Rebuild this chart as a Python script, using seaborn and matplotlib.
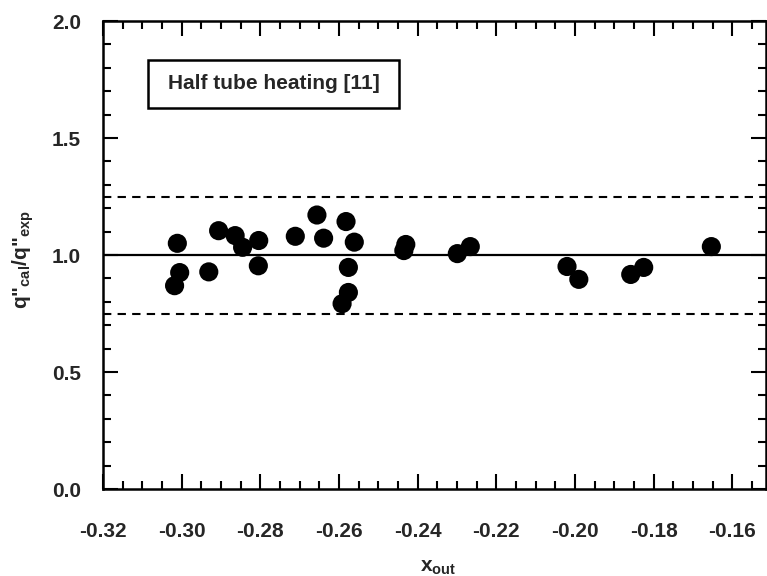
import matplotlib
matplotlib.use("Agg")
import matplotlib.pyplot as plt
import seaborn as sns
import pandas as pd
from matplotlib.patches import Rectangle
from matplotlib.ticker import MultipleLocator

# Data
x_out = [-0.3011, -0.3005, -0.3018, -0.2931, -0.2906, -0.2864, -0.2845, -0.2804,
         -0.2805, -0.2711, -0.2656, -0.2639, -0.2582, -0.2561, -0.2576, -0.2576,
         -0.2592, -0.2430, -0.2435, -0.2299, -0.2266, -0.2020, -0.1990, -0.1858,
         -0.1825, -0.1653]
q_ratio = [1.050, 0.925, 0.869, 0.928, 1.104, 1.083, 1.033, 1.062,
           0.954, 1.080, 1.171, 1.072, 1.143, 1.055, 0.947, 0.840,
           0.792, 1.045, 1.019, 1.006, 1.036, 0.951, 0.896, 0.917,
           0.947, 1.036]
ref_line = [1.0]
bound_lines = [1.25, 0.75]
x_ticks = [-0.32, -0.30, -0.28, -0.26, -0.24, -0.22, -0.20, -0.18, -0.16]
y_ticks = [0.0, 0.5, 1.0, 1.5, 2.0]
label_text = "Half tube heating [11]"

sns.set_style("ticks")
plt.rcParams['font.family'] = ['Liberation Sans', 'DejaVu Sans']
plt.rcParams['mathtext.default'] = 'regular'
plt.rcParams['font.weight'] = 'bold'

df = pd.DataFrame({"x": x_out, "y": q_ratio})

fig = plt.figure(figsize=(7.67, 5.76), dpi=100)
ax = fig.add_axes([0.1343, 0.151, 0.8644, 0.8125])

for v in ref_line:
    ax.axhline(v, color='black', lw=1.6, ls='-', zorder=1)
for v in bound_lines:
    ax.axhline(v, color='black', lw=1.5, ls=(0, (4, 3)), zorder=1)

sns.scatterplot(data=df, x="x", y="y", ax=ax, color='black', s=190,
                edgecolor='none', zorder=3, legend=False)

ax.set_xlim(-0.32, -0.1514)
ax.set_ylim(0.0, 2.0)
ax.set_xticks(x_ticks)
ax.set_xticklabels([f"{t:.2f}" for t in x_ticks])
ax.set_yticks(y_ticks)
ax.set_yticklabels([f"{t:.1f}" for t in y_ticks])
ax.xaxis.set_minor_locator(MultipleLocator(0.005))
ax.yaxis.set_minor_locator(MultipleLocator(0.1))
ax.tick_params(which='both', direction='in', top=True, right=True,
               labelsize=15, width=1.5, color='black')
ax.tick_params(which='major', length=11)
ax.tick_params(which='minor', length=6)
ax.tick_params(axis='x', which='major', pad=24)
ax.tick_params(axis='y', which='major', pad=16)
for lab in ax.get_xticklabels() + ax.get_yticklabels():
    lab.set_fontweight('bold')
for sp in ax.spines.values():
    sp.set_linewidth(1.8)
    sp.set_color('black')

ax.set_xlabel(r'x$_{out}$', fontsize=15, fontweight='bold')
ax.xaxis.set_label_coords(0.505, -0.168, transform=ax.transAxes)
ax.xaxis.label.set_va('center')
ax.set_ylabel(r'q"$_{cal}$/q"$_{exp}$', fontsize=15, fontweight='bold')
ax.yaxis.set_label_coords(-0.12, 0.49, transform=ax.transAxes)
ax.yaxis.label.set_va('center')

ax.add_patch(Rectangle((0.0679, 0.814), 0.3786, 0.1026, transform=ax.transAxes,
                       fill=False, edgecolor='black', lw=1.8, zorder=4))
ax.text(0.257, 0.866, label_text, transform=ax.transAxes, ha='center', va='center',
        fontsize=15, fontweight='bold', zorder=5)

fig.savefig("out.png", dpi=100)
